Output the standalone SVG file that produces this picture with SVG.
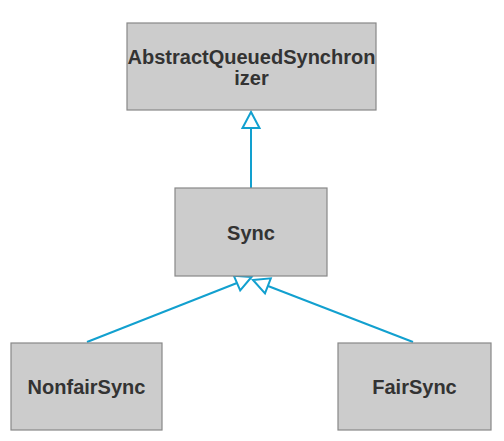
<svg xmlns="http://www.w3.org/2000/svg" width="504" height="441" viewBox="0 0 504 441">
<style>
.box{fill:#cccccc;stroke:#888888;stroke-width:1.2}
.lbl{font-family:"Liberation Sans",Arial,sans-serif;font-weight:bold;font-size:20px;fill:#333333;text-anchor:middle}
.edge{stroke:#12a0cf;stroke-width:2;fill:none}
.head{stroke:#12a0cf;stroke-width:2;fill:#ffffff;stroke-linejoin:miter}
</style>
<rect x="0" y="0" width="504" height="441" fill="#ffffff"/>
<g id="connectors">
<line class="edge" x1="251" y1="188" x2="251" y2="128"/>
<polygon class="head" points="251,112 242.5,128 259.5,128"/>
<line class="edge" x1="87" y1="342" x2="237" y2="283"/>
<polygon class="head" points="251.5,277 233.8,275.7 240.2,290.3"/>
<line class="edge" x1="413" y1="342" x2="268" y2="286"/>
<polygon class="head" points="253,280 270.8,278.3 265,293.3"/>
</g>
<g id="node-aqs">
<rect class="box" x="127" y="23" width="249" height="87"/>
<text class="lbl" x="251.5" y="64">AbstractQueuedSynchron</text>
<text class="lbl" x="251.5" y="85">izer</text>
</g>
<g id="node-sync">
<rect class="box" x="175" y="188" width="152" height="88"/>
<text class="lbl" x="251" y="240">Sync</text>
</g>
<g id="node-nonfairsync">
<rect class="box" x="11" y="343" width="151" height="87"/>
<text class="lbl" x="86.5" y="394">NonfairSync</text>
</g>
<g id="node-fairsync">
<rect class="box" x="338" y="343" width="153" height="87"/>
<text class="lbl" x="414.5" y="394">FairSync</text>
</g>
</svg>
